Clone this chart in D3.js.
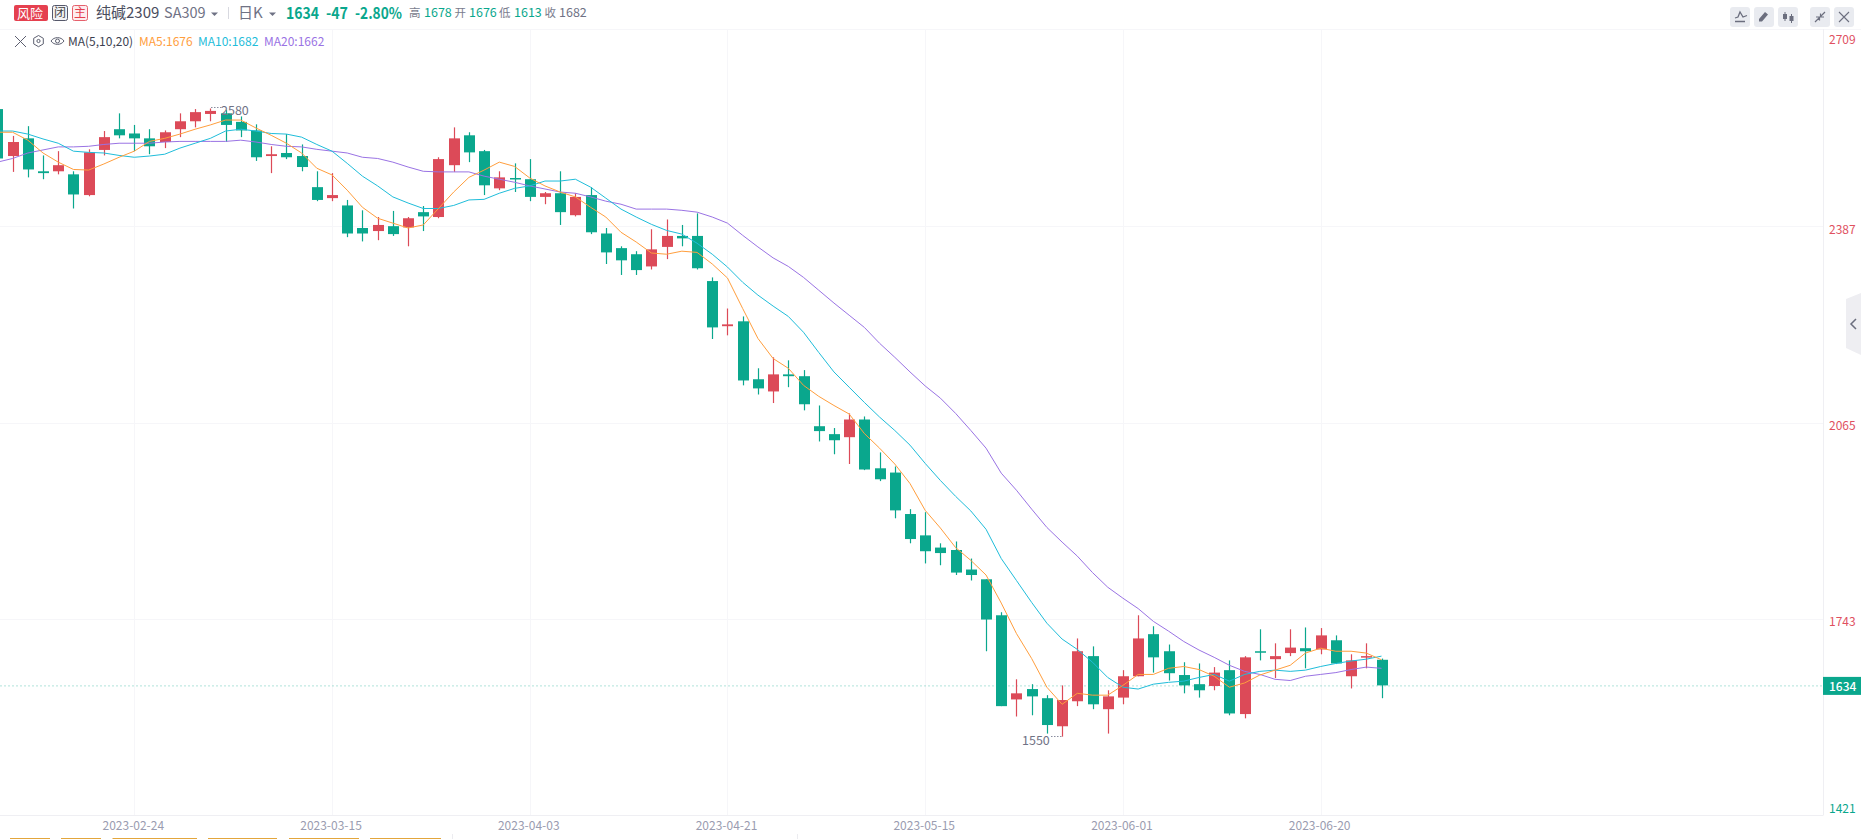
<!DOCTYPE html>
<html>
<head>
<meta charset="utf-8">
<script src="https://cdn.jsdelivr.net/npm/d3@7/dist/d3.min.js"></script>
<style>
html,body{margin:0;padding:0;background:#fff;overflow:hidden}
svg{display:block;font-family:"Noto Sans CJK SC","Noto Sans",sans-serif}
</style>
</head>
<body>
<svg id="c" width="1861" height="839"></svg>
<script>
const opens=[2579,2502,2531,2477,2477,2472,2438,2512,2546,2539,2531,2525,2546,2559,2571,2572,2558,2544,2502,2507,2502,2451,2433,2421,2384,2379,2387,2385,2410,2402,2487,2536,2510,2449,2466,2464,2435,2441,2405,2438,2375,2351,2341,2321,2353,2371,2371,2297,2223,2231,2136,2116,2144,2141,2059,2046,2041,2070,1990,1983,1915,1880,1860,1856,1824,1808,1749,1611,1628,1613,1567,1608,1682,1595,1614,1649,1718,1690,1651,1636,1633,1659,1587,1690,1677,1687,1695,1693,1708,1649,1680,1676];
const closes=[2498,2525,2480,2474,2487,2439,2508,2533,2536,2531,2518,2541,2559,2574,2576,2553,2544,2500,2505,2500,2484,2430,2438,2375,2375,2389,2374,2400,2403,2497,2531,2508,2454,2467,2464,2435,2441,2410,2435,2377,2344,2331,2315,2349,2371,2367,2318,2221,2226,2134,2121,2144,2141,2095,2051,2036,2070,1988,1972,1921,1874,1854,1851,1819,1815,1742,1600,1621,1616,1569,1610,1690,1603,1616,1649,1711,1680,1654,1634,1626,1655,1588,1680,1688,1682,1696,1690,1716,1670,1675,1682,1634];
const highs=[2579,2535,2551,2503,2510,2477,2513,2543,2572,2553,2546,2544,2572,2579,2580,2578,2567,2554,2518,2538,2521,2477,2474,2430,2413,2402,2412,2402,2420,2500,2549,2541,2512,2477,2490,2497,2443,2477,2441,2451,2384,2354,2346,2382,2398,2389,2408,2303,2252,2239,2154,2172,2167,2151,2093,2056,2080,2075,2016,1993,1923,1918,1867,1870,1842,1808,1754,1644,1636,1618,1634,1711,1698,1626,1659,1749,1731,1701,1672,1670,1664,1675,1682,1726,1703,1726,1729,1728,1716,1685,1703,1678];
const lows=[2498,2476,2467,2464,2472,2416,2436,2503,2531,2510,2505,2515,2533,2549,2559,2525,2533,2494,2474,2497,2477,2428,2428,2369,2362,2364,2371,2354,2379,2400,2476,2492,2438,2446,2443,2428,2423,2389,2403,2374,2325,2307,2307,2316,2333,2354,2316,2202,2208,2126,2111,2097,2123,2085,2034,2013,1997,1987,1969,1908,1867,1834,1831,1815,1806,1690,1600,1583,1585,1555,1550,1600,1595,1555,1603,1649,1655,1642,1621,1614,1626,1585,1580,1675,1646,1682,1662,1685,1669,1629,1662,1613];
const ma5=[2541,2541,2528,2507,2492,2480,2479,2489,2500,2510,2526,2531,2538,2546,2553,2561,2561,2548,2536,2523,2507,2482,2471,2446,2418,2400,2392,2384,2389,2416,2443,2467,2479,2492,2485,2466,2453,2443,2435,2418,2402,2377,2361,2343,2341,2346,2344,2325,2302,2252,2203,2170,2154,2126,2108,2093,2079,2047,2023,1997,1965,1921,1892,1860,1839,1815,1769,1719,1678,1631,1603,1621,1618,1618,1634,1652,1652,1662,1665,1660,1649,1631,1638,1651,1659,1667,1687,1695,1690,1690,1687,1676];
const ma10=[2543,2543,2538,2530,2523,2510,2508,2507,2503,2500,2502,2505,2515,2523,2531,2543,2546,2543,2539,2538,2533,2521,2510,2490,2469,2453,2435,2425,2416,2416,2421,2430,2431,2441,2449,2453,2461,2461,2464,2451,2433,2415,2402,2390,2380,2374,2359,2341,2320,2295,2274,2256,2239,2213,2180,2148,2123,2098,2074,2052,2028,1998,1970,1944,1920,1890,1842,1806,1770,1736,1710,1693,1672,1647,1631,1628,1636,1639,1641,1647,1652,1641,1652,1657,1659,1657,1659,1665,1670,1674,1677,1682];
const ma20=[2492,2498,2507,2512,2517,2517,2518,2521,2523,2523,2523,2525,2526,2526,2526,2526,2528,2525,2521,2518,2517,2513,2510,2507,2500,2498,2492,2484,2477,2476,2476,2476,2469,2464,2459,2453,2448,2443,2441,2435,2428,2423,2415,2415,2415,2413,2410,2402,2392,2372,2353,2335,2321,2303,2282,2261,2241,2221,2195,2172,2148,2125,2105,2080,2052,2023,1982,1954,1923,1893,1869,1846,1819,1795,1777,1760,1739,1723,1706,1692,1680,1667,1657,1652,1644,1642,1649,1652,1655,1660,1664,1662];
const xTickIndex=[9,22,35,48,61,74,87];
const xTickLabels=["2023-02-24","2023-03-15","2023-04-03","2023-04-21","2023-05-15","2023-06-01","2023-06-20"];
const yTicks=[2709,2387,2065,1743,1421];
const lastPrice=1634;
const maxIndex=14, minIndex=70;

const GREEN="#0aa78d",RED="#dc4a58",GRID="#f6f6f9",AXIS="#efeff3";
const svg=d3.select("#c");
const x=d3.scaleLinear().domain([0,91]).range([-2.6,1381.5]);
const y=d3.scaleLinear().domain([1421,2709]).range([815.3,29.8]);
const plotRight=1823, plotBottom=815.5, plotTop=29;

// grid
const grid=svg.append("g");
grid.selectAll("line.h").data(yTicks.slice(1,4)).join("line")
 .attr("x1",0).attr("x2",plotRight).attr("y1",d=>Math.round(y(d))+.5).attr("y2",d=>Math.round(y(d))+.5).attr("stroke",GRID);
grid.selectAll("line.v").data(xTickIndex).join("line").attr("class","v")
 .attr("y1",plotTop).attr("y2",plotBottom).attr("x1",d=>Math.round(x(d))+.5).attr("x2",d=>Math.round(x(d))+.5).attr("stroke",GRID);
grid.append("line").attr("x1",0).attr("x2",1861).attr("y1",plotTop+.5).attr("y2",plotTop+.5).attr("stroke",GRID);
grid.append("line").attr("x1",0).attr("x2",plotRight).attr("y1",plotBottom).attr("y2",plotBottom).attr("stroke",AXIS);
grid.append("line").attr("x1",plotRight+.5).attr("x2",plotRight+.5).attr("y1",plotTop).attr("y2",plotBottom).attr("stroke",AXIS);

// last-price line
svg.append("line").attr("x1",0).attr("x2",plotRight).attr("y1",y(lastPrice)+.5).attr("y2",y(lastPrice)+.5)
 .attr("stroke",GREEN).attr("stroke-opacity",.32).attr("stroke-width",1).attr("stroke-dasharray","2 2");

// candles
const idx=d3.range(opens.length);
const col=i=>closes[i]>=opens[i]?RED:GREEN;
const cx=i=>Math.round(x(i));
svg.append("g").selectAll("line").data(idx).join("line")
 .attr("x1",i=>cx(i)+.5).attr("x2",i=>cx(i)+.5).attr("y1",i=>y(highs[i])).attr("y2",i=>y(lows[i]))
 .attr("stroke",col).attr("stroke-width",1.2);
svg.append("g").selectAll("rect").data(idx).join("rect")
 .attr("x",i=>cx(i)-5).attr("width",11)
 .attr("y",i=>y(Math.max(opens[i],closes[i])))
 .attr("height",i=>Math.max(1.5,Math.abs(y(opens[i])-y(closes[i]))))
 .attr("fill",col);

// MA lines
const line=d3.line().x((d,i)=>x(i)).y(d=>y(d));
[[ma20,"#9a73e4"],[ma10,"#1fbdda"],[ma5,"#ff9e3d"]].forEach(([s,c])=>{
  svg.append("path").attr("d",line(s)).attr("fill","none").attr("stroke",c).attr("stroke-width",1);
});

// axes
const yAxis=d3.axisRight(y).tickValues(yTicks).tickSize(0).tickPadding(0).tickFormat(d3.format("d"));
const yg=svg.append("g").attr("transform","translate(1829,0)").call(yAxis);
yg.select(".domain").remove();
yg.selectAll("text").attr("x",0).attr("font-family",'"Noto Sans CJK SC"').attr("font-size",12)
 .attr("fill",d=>d>lastPrice?"#e0515f":GREEN)
 .attr("dy","0.32em")
 .attr("transform",d=>`translate(0,${d===2709?9.5:d===1421?-6.5:3})`);
const xAxis=d3.axisBottom(x).tickValues(xTickIndex).tickSize(0).tickPadding(0).tickFormat((d,i)=>xTickLabels[i]);
const xg=svg.append("g").attr("transform","translate(-1.5,821.5)").call(xAxis);
xg.select(".domain").remove();
xg.selectAll("text").attr("font-family",'"Noto Sans CJK SC"').attr("font-size",12).attr("fill","#9a9cb0").attr("dy","0.71em").attr("y",0);

// price tag
svg.append("rect").attr("x",1823).attr("y",y(lastPrice)-8.5).attr("width",38).attr("height",18).attr("fill",GREEN);
svg.append("text").attr("x",1829).attr("y",y(lastPrice)+1).attr("dy","0.35em").attr("fill","#fff").attr("font-size",12).attr("font-weight",500).text(lastPrice);

// extreme labels
const ext=(i,lbl,tx,ty,lx1,lx2,ly)=>{
  svg.append("line").attr("x1",lx1).attr("x2",lx2).attr("y1",ly).attr("y2",ly).attr("stroke","#8a8d9e").attr("stroke-dasharray","1.5 1.5");
  svg.append("text").attr("x",tx).attr("y",ty).attr("dy","0.35em").attr("fill","#6f7285").attr("font-size",12.5).text(lbl);
};
ext(maxIndex,highs[maxIndex],221,111,211,222,107.5);
ext(minIndex,lows[minIndex],1022,741,1051,1062,736.5);

// header
function t(xp,yp,s,size,fill,weight,len){
  const e=svg.append("text").attr("x",xp).attr("y",yp).attr("dy","0.35em").attr("font-size",size).attr("fill",fill).attr("font-weight",weight||400).text(s);
  if(len) e.attr("textLength",len).attr("lengthAdjust","spacingAndGlyphs");
  return e;
}
svg.append("rect").attr("x",14).attr("y",5).attr("width",34).attr("height",16).attr("rx",2).attr("fill","#e5404f");
t(17,13,"风险",13,"#fff");
svg.append("rect").attr("x",52.5).attr("y",5.5).attr("width",15).attr("height",15).attr("rx",2).attr("fill","#f2f2f4").attr("stroke","#55586a");
t(54,13,"闭",12,"#444");
svg.append("rect").attr("x",72.5).attr("y",5.5).attr("width",15).attr("height",15).attr("rx",2).attr("fill","#fdecee").attr("stroke","#e5606c");
t(74,13,"主",12,"#e5404f");
t(96,13,"纯碱2309",15,"#4a4d5e");
t(164,13,"SA309",14.5,"#6f7285");
svg.append("path").attr("d","M211 12.5h7l-3.5 3.5z").attr("fill","#6f7285");
svg.append("line").attr("x1",228.5).attr("x2",228.5).attr("y1",7).attr("y2",19).attr("stroke","#d8d9e0");
t(238,13,"日K",15,"#6f7285");
svg.append("path").attr("d","M269 12.5h7l-3.5 3.5z").attr("fill","#6f7285");
t(286,13,"1634",16,GREEN,700,33);
t(326,13,"-47",16,GREEN,700,22);
t(355,13,"-2.80%",16,GREEN,700,47);
t(409,12.5,"高",11.5,"#7a7d8e"); t(424,12.5,"1678",12.5,GREEN);
t(454.5,12.5,"开",11.5,"#7a7d8e"); t(469,12.5,"1676",12.5,GREEN);
t(499,12.5,"低",11.5,"#7a7d8e"); t(514,12.5,"1613",12.5,GREEN);
t(544.5,12.5,"收",11.5,"#7a7d8e"); t(559,12.5,"1682",12.5,"#6f7285");

// second row
const ic="#5c5f70";
svg.append("path").attr("d","M15 36l11 11M26 36l-11 11").attr("stroke",ic).attr("fill","none");
svg.append("path").attr("d","M38.5 35.5l4.8 2.8v5.6l-4.8 2.8-4.8-2.8v-5.6z").attr("stroke",ic).attr("fill","none");
svg.append("circle").attr("cx",38.5).attr("cy",41).attr("r",1.6).attr("stroke",ic).attr("fill","none");
svg.append("path").attr("d","M51 41c3-4.5 10-4.5 13 0c-3 4.5-10 4.5-13 0z").attr("stroke",ic).attr("fill","none");
svg.append("circle").attr("cx",57.5).attr("cy",41).attr("r",2).attr("stroke",ic).attr("fill","none");
t(68,42,"MA(5,10,20)",12,"#3c3f50");
t(139,42,"MA5:1676",12,"#ff9e3d");
t(198,42,"MA10:1682",12,"#1fbdda");
t(264,42,"MA20:1662",12,"#9a73e4");

// top-right buttons
[1730,1754,1778,1810,1834].forEach(bx=>{
  svg.append("rect").attr("x",bx).attr("y",7).attr("width",20).attr("height",20).attr("rx",3).attr("fill","#e9ebf0");
});
const bi="#6b6e7e";
svg.append("path").attr("d","M1735 18l3-1 2-5 3 5 4-1.5M1735 21.5h10").attr("stroke",bi).attr("stroke-width",1.3).attr("fill","none");
svg.append("path").attr("d","M1759 19l6-7 3 2.5-6 7h-3zM1759 22.5h10").attr("fill",bi);
svg.append("path").attr("d","M1785 12v2M1785 19v2M1791.5 14v2M1791.5 21v2").attr("stroke",bi);
svg.append("rect").attr("x",1783).attr("y",14).attr("width",4).attr("height",5).attr("fill",bi);
svg.append("rect").attr("x",1789.5).attr("y",16).attr("width",4).attr("height",5).attr("fill",bi);
svg.append("path").attr("d","M1815 22l4.5-4.5M1825 12l-4.5 4.5M1816 17h3.5v3.5M1824 17h-3.5v-3.5").attr("stroke",bi).attr("stroke-width",1.2).attr("fill","none");
svg.append("path").attr("d","M1839 12l10 10M1849 12l-10 10").attr("stroke",bi).attr("stroke-width",1.1).attr("fill","none");

// side handle
svg.append("path").attr("d","M1861 293L1846 299V348L1861 355Z").attr("fill","#eeeef2");
svg.append("path").attr("d","M1856 319l-5 5 5 5").attr("stroke","#6b6e7e").attr("stroke-width",1.5).attr("fill","none");

// bottom strip
[[10,50],[61,101],[112.5,197],[208,277],[289,359],[370,441]].forEach(([a,b])=>{
  svg.append("rect").attr("x",a).attr("y",838).attr("width",b-a).attr("height",1).attr("fill","#e3a63c");
});
[452,797].forEach(v=>svg.append("line").attr("x1",v+.5).attr("x2",v+.5).attr("y1",834).attr("y2",839).attr("stroke","#ececf0"));
</script>
</body>
</html>
